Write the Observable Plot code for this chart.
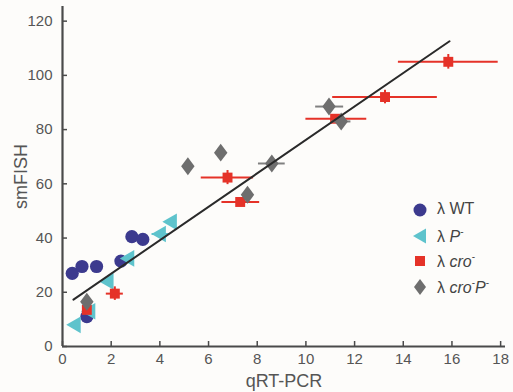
<!DOCTYPE html>
<html><head><meta charset="utf-8">
<script src="https://cdn.jsdelivr.net/npm/d3@7"></script>
<script src="https://cdn.jsdelivr.net/npm/@observablehq/plot@0.6"></script>
<style>
html,body{margin:0;padding:0;background:#fdfcfa;}
#wrap{position:relative;width:513px;height:392px;font-family:"Liberation Sans",Arial,sans-serif;}
#legend{position:absolute;left:410px;top:200px;font-size:16px;color:#444;}
#legend .row{position:absolute;left:0;height:20px;white-space:nowrap;}
#legend svg{position:absolute;left:0;top:0;}
#legend span.t{position:absolute;left:27px;top:0px;}
#legend sup{font-size:10px;vertical-align:7px;font-style:normal;}
</style>
</head><body>
<div id="wrap"><div id="chart"></div><div id="legend"></div></div>
<script>
// Axis ticks
const xTicks = [0, 2, 4, 6, 8, 10, 12, 14, 16, 18];
const yTicks = [0, 20, 40, 60, 80, 100, 120];

// λWT (circles)
const wtX = [0.4, 0.8, 1.4, 2.4, 2.85, 3.3, 1.0];
const wtY = [27, 29.5, 29.5, 31.5, 40.5, 39.5, 11];

// λP- (left triangles)
const pX   = [0.55, 1.15, 1.9, 2.75, 4.05, 4.5];
const pY   = [8, 13, 24, 32.5, 41.5, 46];
const pXLo = [0.55, 1.15, 1.9, 2.75, 3.68, 4.5];
const pXHi = [0.55, 1.15, 1.9, 2.75, 4.4, 4.5];

// λcro- (squares with error bars)
const croX   = [1.0, 2.15, 6.78, 7.3, 11.2, 13.25, 15.85];
const croY   = [13.5, 19.5, 62.3, 53.3, 84, 92, 105];
const croXLo = [1.0, 1.8, 5.7, 6.55, 10.0, 11.1, 13.8];
const croXHi = [1.0, 2.5, 7.85, 8.1, 12.5, 15.4, 17.9];
const croYLo = [13.5, 17, 59.7, 53.3, 84, 89.5, 102.3];
const croYHi = [13.5, 22, 64.9, 53.3, 84, 94.5, 107.7];

// λcro-P- (diamonds)
const dX   = [1.0, 5.15, 6.5, 7.6, 8.6, 10.95, 11.45];
const dY   = [16.5, 66.5, 71.5, 56, 67.5, 88.5, 83];
const dXLo = [1.0, 5.15, 6.5, 7.6, 8.05, 10.4, 11.05];
const dXHi = [1.0, 5.15, 6.5, 7.6, 9.15, 11.55, 11.85];

// Regression line endpoints
const lineX = [0.45, 15.9];
const lineY = [17.3, 112.6];

const cBlue = "#3c3a8e", cCyan = "#5ec3cc", cRed = "#e53228", cGray = "#6e6e6e", cAxis = "#4a4a4a";

const wt = wtX.map((x, i) => ({x, y: wtY[i]}));
const pm = pX.map((x, i) => ({x, y: pY[i], x1: pXLo[i], x2: pXHi[i]}));
const cro = croX.map((x, i) => ({x, y: croY[i], x1: croXLo[i], x2: croXHi[i], y1: croYLo[i], y2: croYHi[i]}));
const dm = dX.map((x, i) => ({x, y: dY[i], x1: dXLo[i], x2: dXHi[i]}));
const fit = lineX.map((x, i) => ({x, y: lineY[i]}));

const diamond = {
  draw(ctx, size) {
    const h = Math.sqrt(size / 1.5), w = h * 0.75;
    ctx.moveTo(0, -h); ctx.lineTo(w, 0); ctx.lineTo(0, h); ctx.lineTo(-w, 0); ctx.closePath();
  }
};

const plot = Plot.plot({
  width: 513, height: 392,
  marginLeft: 62, marginRight: 8, marginTop: 6, marginBottom: 46,
  x: {domain: [0, 18.2]},
  y: {domain: [0, 125.4]},
  style: {fontFamily: "'Liberation Sans', Arial, sans-serif", fontSize: "15px", color: "#555", background: "transparent"},
  marks: [
    Plot.axisX({ticks: xTicks, tickSize: -5, tickPadding: 12, stroke: cAxis, strokeWidth: 1.5, fontSize: 15, label: null}),
    Plot.axisX({ticks: [], label: "qRT-PCR", labelAnchor: "center", labelArrow: "none", labelOffset: 40, fontSize: 18}),
    Plot.axisY({ticks: yTicks, tickSize: -5, tickPadding: 15, stroke: cAxis, strokeWidth: 1.5, fontSize: 15, label: null}),
    Plot.axisY({ticks: [], label: "smFISH", labelAnchor: "center", labelArrow: "none", labelOffset: 48, fontSize: 18}),
    Plot.ruleX([0], {stroke: cAxis, strokeWidth: 2.2}),
    Plot.ruleY([0], {stroke: cAxis, strokeWidth: 2.2}),
    Plot.dot(wt, {x: "x", y: "y", r: 6.6, fill: cBlue, symbol: "circle"}),
    Plot.ruleY(pm, {y: "y", x1: "x1", x2: "x2", stroke: cCyan, strokeWidth: 2}),
    Plot.dot(pm, {x: "x", y: "y", r: 6.2, fill: cCyan, symbol: "triangle", rotate: -90}),
    Plot.ruleY(cro, {y: "y", x1: "x1", x2: "x2", stroke: cRed, strokeWidth: 2}),
    Plot.ruleX(cro, {x: "x", y1: "y1", y2: "y2", stroke: cRed, strokeWidth: 2}),
    Plot.dot(cro, {x: "x", y: "y", r: 5.6, fill: cRed, symbol: "square"}),
    Plot.ruleY(dm, {y: "y", x1: "x1", x2: "x2", stroke: "#808080", strokeWidth: 2}),
    Plot.dot(dm, {x: "x", y: "y", r: 6.2, fill: cGray, symbol: diamond}),
    Plot.line(fit, {x: "x", y: "y", stroke: "#2a2a2a", strokeWidth: 2})
  ]
});
document.getElementById("chart").appendChild(plot);

// Legend
const legendItems = [
  {html: "λ WT", shape: `<circle cx="10" cy="10" r="6.5" fill="${cBlue}"/>`},
  {html: "λ <i>P</i><sup>-</sup>", shape: `<path d="M3,10 L16,2.5 L16,17.5 Z" fill="${cCyan}"/>`},
  {html: "λ <i>cro</i><sup>-</sup>", shape: `<rect x="5" y="5" width="10" height="10" fill="${cRed}"/>`},
  {html: "λ <i>cro</i><sup>-</sup><i>P</i><sup>-</sup>", shape: `<path d="M10,2 L16,10 L10,18 L4,10 Z" fill="${cGray}"/>`}
];
const tops = [0, 26, 51, 77];
const lg = document.getElementById("legend");
legendItems.forEach((it, i) => {
  const row = document.createElement("div");
  row.className = "row";
  row.style.top = tops[i] + "px";
  row.innerHTML = `<svg width="20" height="20">${it.shape}</svg><span class="t">${it.html}</span>`;
  lg.appendChild(row);
});
</script>
</body></html>
